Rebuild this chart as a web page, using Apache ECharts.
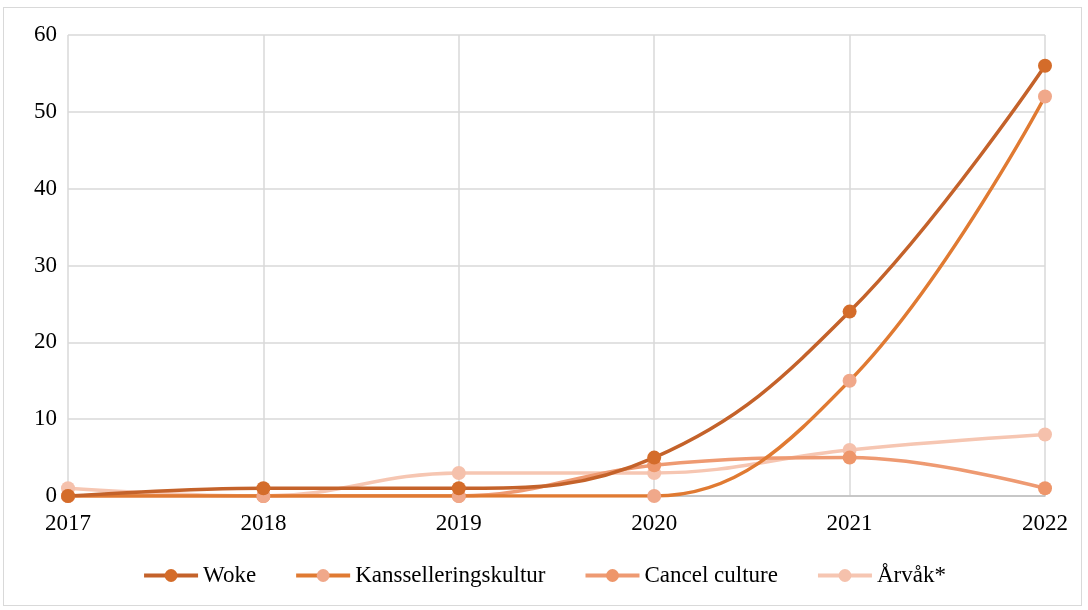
<!DOCTYPE html>
<html><head><meta charset="utf-8">
<script src="https://cdn.jsdelivr.net/npm/echarts@6/dist/echarts.min.js"></script>
<style>
html,body{margin:0;padding:0;background:#fff;}
#frame{position:absolute;left:3px;top:7px;width:1079px;height:599px;border:1px solid #d9d9d9;box-sizing:border-box;}
#c{position:absolute;left:0;top:0;width:1088px;height:610px;}
</style></head>
<body>
<div id="frame"></div>
<div id="c"></div>
<script>
var categories = ['2017','2018','2019','2020','2021','2022'];
var woke = [0, 1, 1, 5, 24, 56];
var kansellering = [0, 0, 0, 0, 15, 52];
var cancelCulture = [0, 0, 0, 4, 5, 1];
var arvak = [1, 0, 3, 3, 6, 8];
var seriesNames = ['Woke', 'Kansselleringskultur', 'Cancel culture', 'Årvåk*'];

var font = 'Liberation Serif, Times New Roman, serif';
function mk(name, data, lineColor, markColor, z) {
  return {
    name: name, type: 'line', data: data, smooth: 0.4, z: z,
    symbol: 'circle', symbolSize: 14,
    lineStyle: {color: lineColor, width: 3.5},
    itemStyle: {color: markColor},
    color: markColor
  };
}
var chart = echarts.init(document.getElementById('c'));
chart.setOption({
  animation: false,
  grid: {left: 68, right: 43, top: 35, bottom: 114, containLabel: false},
  legend: {
    bottom: 18, left: 'center', itemGap: 38, itemWidth: 54, itemHeight: 16,
    lineStyle: {width: 4},
    textStyle: {fontFamily: font, fontSize: 23, color: '#000'},
    data: seriesNames
  },
  xAxis: {
    type: 'category', data: categories, boundaryGap: false,
    axisLine: {lineStyle: {color: '#bfbfbf', width: 1.5}},
    axisTick: {show: false},
    axisLabel: {fontFamily: font, fontSize: 23, color: '#000', margin: 16},
    splitLine: {show: true, lineStyle: {color: '#d9d9d9', width: 1.5}}
  },
  yAxis: {
    type: 'value', min: 0, max: 60, interval: 10,
    axisLine: {show: false}, axisTick: {show: false},
    axisLabel: {fontFamily: font, fontSize: 23, color: '#000', margin: 11},
    splitLine: {lineStyle: {color: '#d9d9d9', width: 1.5}}
  },
  series: [
    mk(seriesNames[0], woke, '#C4622A', '#D46C2A', 4),
    mk(seriesNames[1], kansellering, '#E07A32', '#F0A88A', 3),
    mk(seriesNames[2], cancelCulture, '#EE9A72', '#EE966A', 2),
    mk(seriesNames[3], arvak, '#F6C6B2', '#F5C1AC', 1)
  ]
});
</script>
</body></html>
